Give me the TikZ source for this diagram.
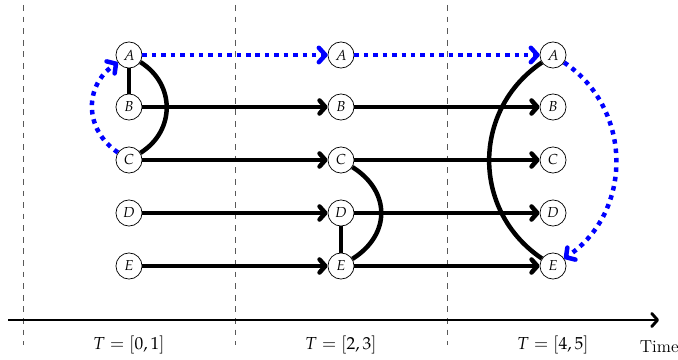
\documentclass[tikz,border=0pt]{standalone}
\usepackage{mathpazo}
\usetikzlibrary{arrows.meta}
\begin{document}
\begin{tikzpicture}[x=0.69pt,y=-0.69pt,
 st/.style={circle,draw,line width=0.5pt,minimum size=18pt,inner sep=0pt,font=\normalsize,fill=white},
 flow/.style={line width=3.1pt,-{Straight Barb[length=4pt,width=9pt,round]}},
 link/.style={line width=3.1pt},
 msg/.style={blue,line width=3.1pt,dash pattern=on 3.1pt off 3.4pt,-{Straight Barb[length=4.5pt,width=10pt,round]}},
 sep/.style={gray!70!black,line width=0.5pt,dash pattern=on 4pt off 4pt},
 axis/.style={line width=2pt,-{Straight Barb[length=4pt,width=9pt,round]}},
 lab/.style={font=\large}]
\useasboundingbox (0,0) rectangle (678,360);
% separators
\foreach \x [count=\i] in {23,235,447} {
  \coordinate (s\i t) at (\x,5);
  \coordinate (s\i b) at (\x,345);
  \draw[sep] (s\i t) -- (s\i b);
}
% states
\foreach \c/\x in {1/129,2/341,3/553} {
  \node[st] (a\c) at (\x,55) {$A$};
  \node[st] (b\c) at (\x,107) {$B$};
  \node[st] (c\c) at (\x,160) {$C$};
  \node[st] (d\c) at (\x,213) {$D$};
  \node[st] (e\c) at (\x,266) {$E$};
}
% horizontal flows
\foreach \r in {b,c,d,e} {
  \draw[flow] (\r1) -- (\r2);
  \draw[flow] (\r2) -- (\r3);
}
\draw[msg] (a1) -- (a2);
\draw[msg] (a2) -- (a3);
% column 1
\draw[link] (a1) -- (b1);
\draw[link] (a1) to[out=-32,in=32,looseness=1.17] (c1);
\draw[msg] (c1) to[out=146,in=-146,looseness=1.17] (a1);
% column 2
\draw[link] (d2) -- (e2);
\draw[link] (c2) to[out=-32,in=32,looseness=1.27] (e2);
% column 3
\draw[link] (a3) to[out=-146,in=146,looseness=1.11] (e3);
\draw[msg] (a3) to[out=-34,in=34,looseness=1.09] (e3);
% time axis
\coordinate (t0) at (8,320);
\coordinate (t1) at (659,320);
\draw[axis] (t0) -- (t1);
\node[lab] (l1) at (129,345) {$T=[0,1]$};
\node[lab] (l2) at (341,345) {$T=[2,3]$};
\node[lab] (l3) at (553,345) {$T=[4,5]$};
\node[lab,anchor=east,inner sep=0pt] (tl) at (679,347) {Time};
\end{tikzpicture}
\end{document}
